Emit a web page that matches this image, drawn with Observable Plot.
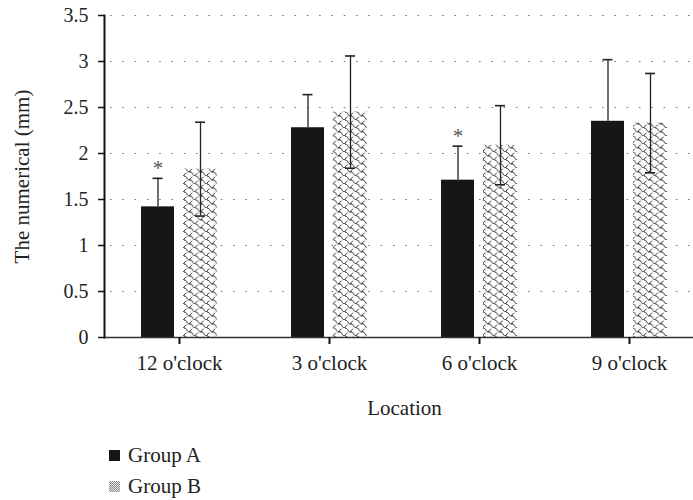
<!DOCTYPE html>
<html>
<head>
<meta charset="utf-8">
<script src="https://cdn.jsdelivr.net/npm/d3@7"></script>
<script src="https://cdn.jsdelivr.net/npm/@observablehq/plot@0.6"></script>
<style>
  html, body { margin: 0; padding: 0; background: #fff; overflow: hidden; }
  #chart svg { max-width: none; display: block; }
  .legend { font-family: "Liberation Serif", serif; font-size: 21px; color: #222; padding-top: 12px; }
  .legend .row { display: flex; align-items: center; height: 31px; }
  .legend .sw { width: 11px; height: 11px; margin-left: 109px; margin-right: 8px; }
</style>
</head>
<body>
<div id="chart"></div>
<div class="legend">
  <div class="row"><span class="sw" style="background:#161616"></span><span>Group A</span></div>
  <div class="row"><span class="sw" style="background: repeating-conic-gradient(#8a8a8a 0 25%, #e8e8e8 0 50%) 0 0/2px 2px"></span><span>Group B</span></div>
</div>
<script>
const locations = ["12 o'clock", "3 o'clock", "6 o'clock", "9 o'clock"];
const groupA = [1.42, 2.28, 1.71, 2.35];
const groupAErr = [0.31, 0.36, 0.37, 0.67];
const groupB = [1.83, 2.45, 2.09, 2.33];
const groupBErr = [0.51, 0.61, 0.43, 0.54];
const significant = [true, false, true, false];
const yTicks = [0, 0.5, 1, 1.5, 2, 2.5, 3, 3.5];

const rows = locations.map((loc, i) => ({
  loc, a: groupA[i], ae: groupAErr[i], b: groupB[i], be: groupBErr[i], sig: significant[i]
}));
const sigRows = rows.filter(d => d.sig);

const font = "'Liberation Serif', serif";
const plot = Plot.plot({
  width: 704,
  height: 428,
  marginLeft: 104,
  marginRight: 0,
  marginTop: 15,
  marginBottom: 91,
  style: { fontFamily: font, fontSize: "20px", color: "#222", background: "white" },
  x: { domain: locations, padding: 0 },
  y: { domain: [0, 3.5] },
  marks: [
    Plot.ruleY(yTicks.filter(t => t > 0), { stroke: "#777", strokeWidth: 1.2, strokeDasharray: "1.6,10.7", strokeDashoffset: 6.3 }),
    Plot.barY(rows, { x: "loc", y: "a", fill: "#161616", insetLeft: 37, insetRight: 80 }),
    Plot.barY(rows, { x: "loc", y: "b", fill: "url(#weave)", insetLeft: 79, insetRight: 37 }),
    // error bars A (lower half hidden inside the black bar)
    Plot.ruleX(rows, { x: "loc", y1: "a", y2: d => d.a + d.ae, dx: -21.5, stroke: "#222", strokeWidth: 1.3 }),
    Plot.tickY(rows, { x: "loc", y: d => d.a + d.ae, insetLeft: 48.5, insetRight: 91.5, stroke: "#222", strokeWidth: 1.6 }),
    // error bars B
    Plot.ruleX(rows, { x: "loc", y1: d => d.b - d.be, y2: d => d.b + d.be, dx: 21, stroke: "#222", strokeWidth: 1.3 }),
    Plot.tickY(rows, { x: "loc", y: d => d.b + d.be, insetLeft: 91, insetRight: 49, stroke: "#222", strokeWidth: 1.6 }),
    Plot.tickY(rows, { x: "loc", y: d => d.b - d.be, insetLeft: 91, insetRight: 49, stroke: "#222", strokeWidth: 1.6 }),
    // significance
    Plot.text(sigRows, { x: "loc", y: d => d.a + d.ae, text: () => "*", dx: -21.5, dy: -10, fontSize: 21, fill: "#555" }),
    // axes
    Plot.ruleY([0], { stroke: "#333", strokeWidth: 1.5 }),
    Plot.frame({ anchor: "left", stroke: "#111", strokeWidth: 2 }),
    Plot.axisY({ ticks: yTicks, tickFormat: d => String(d), tickSize: 6, tickPadding: 10, strokeWidth: 1.5, stroke: "#111", fill: "#222", fontSize: 20, label: null }),
    Plot.axisX({ tickSize: 7, tickPadding: 11, strokeWidth: 2, stroke: "#111", fill: "#222", fontSize: 21, label: null }),
    Plot.text(["The numerical (mm)"], { frameAnchor: "left", dx: -82, rotate: -90, lineAnchor: "middle", textAnchor: "middle", fontSize: 21, fill: "#222" }),
    Plot.text(["Location"], { frameAnchor: "bottom", dy: 71, lineAnchor: "middle", textAnchor: "middle", fontSize: 21, fill: "#222" })
  ]
});

// pattern definition for Group B
const ns = "http://www.w3.org/2000/svg";
const defs = document.createElementNS(ns, "defs");
const pat = document.createElementNS(ns, "pattern");
pat.setAttribute("id", "weave");
pat.setAttribute("patternUnits", "userSpaceOnUse");
pat.setAttribute("width", "11.5");
pat.setAttribute("height", "8");
const bg = document.createElementNS(ns, "rect");
bg.setAttribute("width", "11.5"); bg.setAttribute("height", "8"); bg.setAttribute("fill", "white");
pat.appendChild(bg);
[
  "M0,0 C4,0 1.5,4 5.75,4 C10,4 7.5,8 11.5,8",
  "M5.75,4 C5.75,2.2 7.2,1.4 8.2,1",
  "M0,8 C0,6.2 1.45,5.4 2.45,5",
  "M11.5,8 C11.5,6.2 12.95,5.4 13.95,5",
  "M-5.75,4 C-5.75,2.2 -4.3,1.4 -3.3,1"
].forEach(d => {
  const p = document.createElementNS(ns, "path");
  p.setAttribute("d", d);
  p.setAttribute("fill", "none");
  p.setAttribute("stroke", "#111");
  p.setAttribute("stroke-width", "0.9");
  pat.appendChild(p);
});
defs.appendChild(pat);
plot.insertBefore(defs, plot.firstChild);
document.getElementById("chart").appendChild(plot);
</script>
</body>
</html>
